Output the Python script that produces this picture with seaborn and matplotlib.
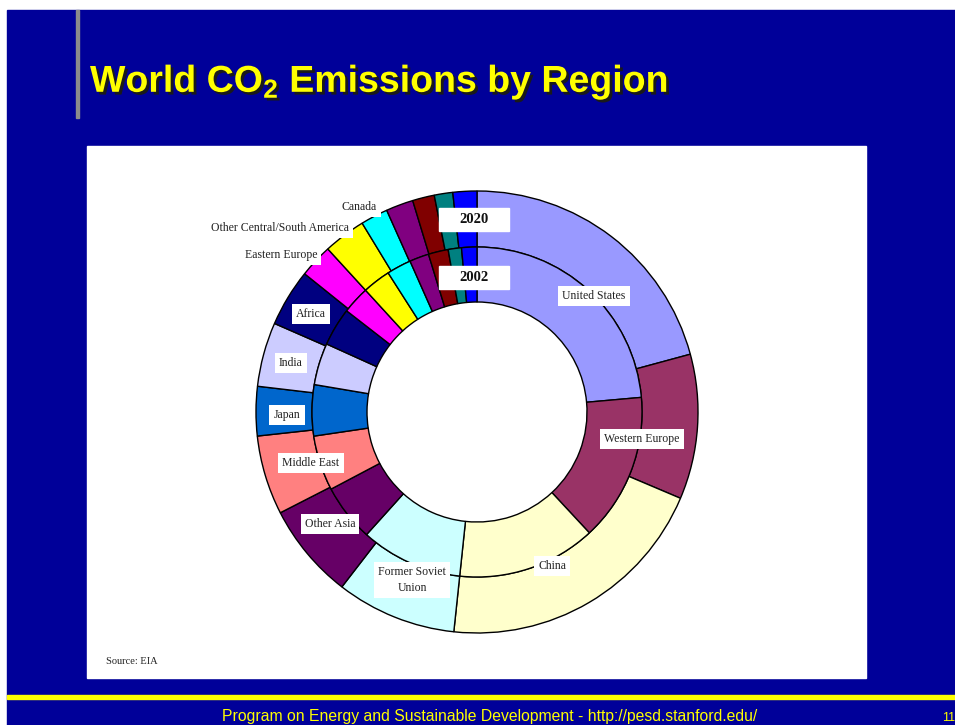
import matplotlib
matplotlib.use("Agg")
import matplotlib.pyplot as plt
import matplotlib.patheffects as pe
import seaborn as sns
from matplotlib.patches import Rectangle

# ---------------- data (shares of world CO2 emissions, %) ----------------
regions = ["United States", "Western Europe", "China", "Former Soviet\nUnion",
           "Other Asia", "Middle East", "Japan", "India", "Africa",
           "Eastern Europe", "Other Central/South America", "Canada",
           "South Korea", "Australia/New Zealand", "Mexico", "Brazil"]
share_2002 = [23.6, 14.5, 13.6, 10.0, 5.6, 5.4, 5.0, 4.1, 3.75,
              2.7, 2.75, 2.4, 1.9, 1.95, 1.3, 1.5]
share_2020 = [20.8, 10.6, 20.3, 8.8, 7.0, 5.8, 3.6, 4.7, 4.2,
              2.45, 3.1, 2.0, 2.0, 1.6, 1.35, 1.75]
show_label = [True] * 12 + [False] * 4
years = ["2020", "2002"]
title_text = "World CO$_{\\mathrm{2}}$ Emissions by Region"
footer_text = "Program on Energy and Sustainable Development - http://pesd.stanford.edu/"
source_text = "Source: EIA"
page_number = "11"

region_colors = ["#9999FF", "#993366", "#FFFFCC", "#CCFFFF", "#660066", "#FF8080",
                 "#0066CC", "#CCCCFF", "#000080", "#FF00FF", "#FFFF00", "#00FFFF",
                 "#800080", "#800000", "#008080", "#0000FF"]

# ---------------- layout ----------------
W, H = 955, 725
sns.set_theme(style="white")
plt.rcParams["font.family"] = ["Liberation Serif", "DejaVu Sans"]
plt.rcParams["mathtext.fontset"] = "custom"
plt.rcParams["mathtext.rm"] = "Liberation Sans:bold"
plt.rcParams["mathtext.bf"] = "Liberation Sans:bold"
plt.rcParams["mathtext.it"] = "Liberation Sans:bold"

palette = sns.color_palette(region_colors)

fig = plt.figure(figsize=(W / 100, H / 100), dpi=100)

# slide background (pixel coordinates)
bg = fig.add_axes([0, 0, 1, 1])
bg.set_xlim(0, W)
bg.set_ylim(H, 0)
bg.axis("off")
bg.add_patch(Rectangle((0, 0), W, H, color="white"))
bg.add_patch(Rectangle((7, 10), W - 7, H - 10, color="#000099"))
bg.add_patch(Rectangle((76, 10), 3, 108, color="#8C8C8C"))
bg.add_patch(Rectangle((87, 146), 779, 532, color="white"))
bg.add_patch(Rectangle((7, 695), W - 7, 4, color="#FFFF00"))

# title with drop shadow
bg.text(90, 92, title_text, fontsize=27, fontweight="bold",
        family="Liberation Sans", color="#FFFF00", ha="left", va="baseline",
        path_effects=[pe.withSimplePatchShadow(offset=(2, -2),
                                               shadow_rgbFace="#1a1a1a",
                                               alpha=1.0)])
bg.text(490, 721, footer_text, fontsize=11.3, family="Liberation Sans",
        color="#FFFF00", ha="center", va="baseline")
bg.text(942, 721, page_number, fontsize=9, family="Liberation Sans",
        color="#FFFF00", ha="left", va="baseline")
bg.text(106, 661, source_text, fontsize=7.5, color="#222222",
        ha="left", va="center")

# donut chart
cx, cy, R = 477, 412, 221
r_mid, r_in = 165, 110
m = 4
ax = fig.add_axes([(cx - R - m) / W, (H - cy - R - m) / H,
                   (2 * R + 2 * m) / W, (2 * R + 2 * m) / H])
wp = dict(edgecolor="black", linewidth=1.0)
ax.pie(share_2020, radius=1.0, colors=palette, startangle=90, counterclock=False,
       wedgeprops=dict(width=(R - r_mid) / R, **wp))
ax.pie(share_2002, radius=r_mid / R, colors=palette, startangle=90, counterclock=False,
       wedgeprops=dict(width=(r_mid - r_in) / R, **wp))
lim = (R + m) / R
ax.set_xlim(-lim, lim)
ax.set_ylim(-lim, lim)
ax.axis("off")

# labels overlay (pixel coordinates)
ov = fig.add_axes([0, 0, 1, 1])
ov.set_xlim(0, W)
ov.set_ylim(H, 0)
ov.axis("off")

label_pos = [(594, 296), (642, 439), (552, 566), (412, 580), (330, 524),
             (311, 463), (287, 415), (291, 363), (311, 314), (281, 255),
             (280, 228), (359, 207), None, None, None, None]
for name, pos, show in zip(regions, label_pos, show_label):
    if not show:
        continue
    ov.text(pos[0], pos[1], name, fontsize=8.5, color="#222222", ha="center",
            va="center", multialignment="center", linespacing=1.5,
            bbox=dict(facecolor="white", edgecolor="none", pad=3))

year_centers = [(474, 219), (474, 277)]
for yr, (x, y) in zip(years, year_centers):
    ov.add_patch(Rectangle((x - 35, y - 11.5), 70, 23, color="white"))
    ov.text(x, y, yr, fontsize=10.5, fontweight="bold", color="#111111",
            ha="center", va="center")

fig.savefig("out.png", dpi=100)
